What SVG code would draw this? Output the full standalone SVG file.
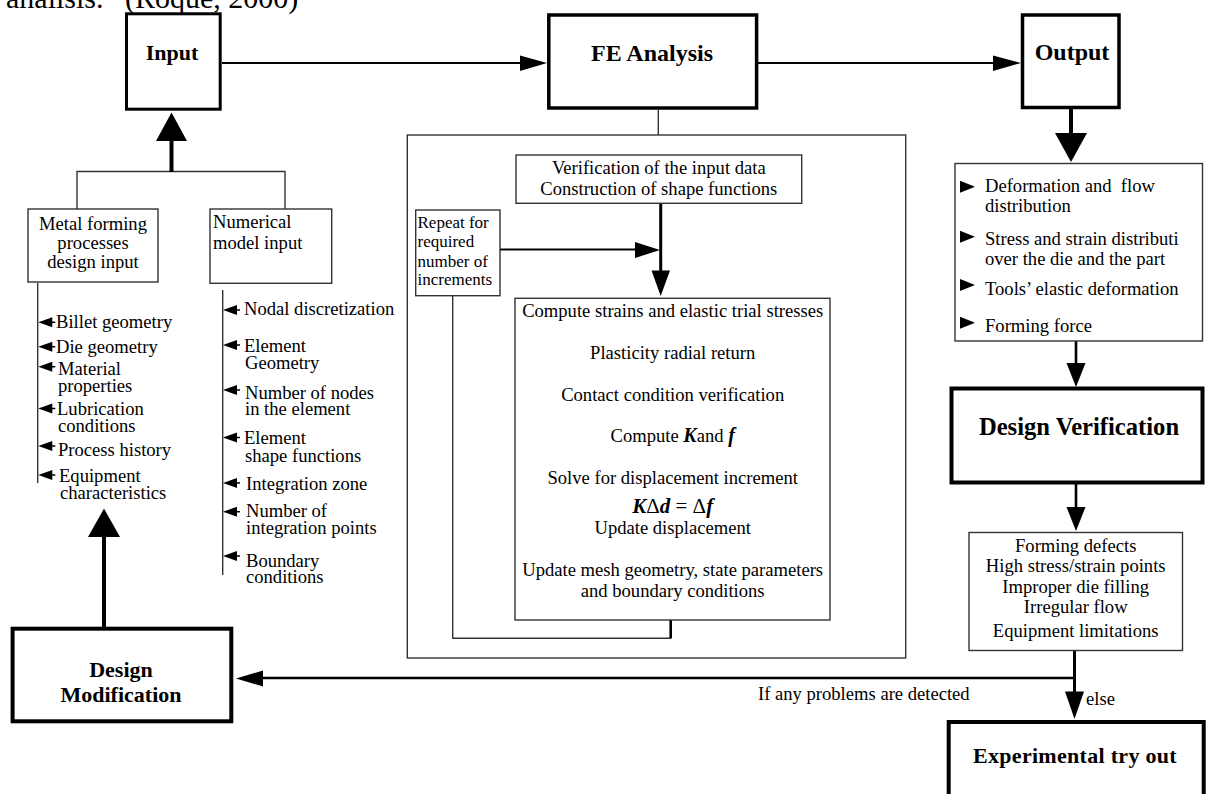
<svg xmlns="http://www.w3.org/2000/svg" width="1206" height="794" viewBox="0 0 1206 794">
  <style>
    text { font-family: "Liberation Serif", "Times New Roman", serif; font-size: 18.6px; fill: #000; }
    .c { text-anchor: middle; }
    .b { font-weight: bold; }
    .bi { font-weight: bold; font-style: italic; }
    .sm { font-size: 17px; }
    .title { font-weight: bold; font-size: 23px; text-anchor: middle; }
    .heavy { fill: #fff; stroke: #000; stroke-width: 3.5; }
    .box { fill: #fff; stroke: #333; stroke-width: 1.4; }
    .thin { fill: none; stroke: #333; stroke-width: 1.4; }
    .wire { fill: none; stroke: #000; stroke-width: 2.2; }
    .stem { fill: none; stroke: #000; stroke-width: 4; }
    .head { fill: #000; stroke: none; }
  </style>
  <defs>
    <!-- small list pointers: left-pointing with a short tail, right-pointing solid -->
    <g id="ptrL"><polygon points="0,0 14,-5 14,5" class="head"/><line x1="13" y1="0" x2="17" y2="0" stroke="#000" stroke-width="1.5"/></g>
    <polygon id="ptrR" points="0,-6 0,6 15,0" class="head"/>
  </defs>

  <rect width="1206" height="794" fill="#fff"/>

  <!-- caption line cut at the top edge -->
  <text y="8" style="font-size:30px"><tspan x="6">analisis.</tspan><tspan x="125">(Roque, 2000)</tspan></text>

  <!-- connectors -->
  <g id="connectors">
    <!-- Input -> FE Analysis -> Output -->
    <line class="wire" x1="222" y1="63" x2="521" y2="63"/>
    <polygon class="head" points="520,55.5 547,63 520,71"/>
    <line class="wire" x1="758" y1="63" x2="994" y2="63"/>
    <polygon class="head" points="993,55.5 1021,63 993,71"/>

    <!-- design inputs bracket up to Input -->
    <polyline class="thin" points="77,209 77,171.5 285,171.5 285,209"/>
    <line class="stem" x1="171.5" y1="172" x2="171.5" y2="139"/>
    <polygon class="head" points="156,141 187,141 171.5,112.5"/>

    <!-- list spines -->
    <line class="thin" x1="37.7" y1="283" x2="37.7" y2="483"/>
    <line class="thin" x1="222.7" y1="290" x2="222.7" y2="575"/>

    <!-- FE Analysis to its detail frame -->
    <line class="thin" x1="658.3" y1="110" x2="658.3" y2="135"/>
    <line class="wire" x1="660.7" y1="203" x2="660.7" y2="272" style="stroke-width:3"/>
    <polygon class="head" points="651.5,270.5 670,270.5 660.7,296"/>
    <line class="wire" x1="500" y1="249.5" x2="636" y2="249.5"/>
    <polygon class="head" points="635,242 660,250 635,258"/>
    <!-- increment loop -->
    <polyline class="thin" points="452.7,296 452.7,638.3 670.7,638.3 670.7,620"/>
    <line class="wire" x1="670.7" y1="620" x2="670.7" y2="638" style="stroke-width:2.6"/>

    <!-- Output -> results list -> Design Verification -> defects -->
    <line class="stem" x1="1071" y1="109" x2="1071" y2="134"/>
    <polygon class="head" points="1055,133 1087,133 1071,162"/>
    <line class="wire" x1="1076" y1="341" x2="1076" y2="364" style="stroke-width:2.6"/>
    <polygon class="head" points="1066.5,363 1085.5,363 1076,387"/>
    <line class="wire" x1="1076" y1="484" x2="1076" y2="508" style="stroke-width:2.6"/>
    <polygon class="head" points="1066.5,507 1085.5,507 1076,531"/>

    <!-- decision: problems -> Design Modification, else -> try out -->
    <line class="wire" x1="1074.5" y1="651" x2="1074.5" y2="693" style="stroke-width:3"/>
    <polygon class="head" points="1065,691.5 1084,691.5 1074.5,719"/>
    <line class="wire" x1="1073" y1="678" x2="262" y2="678" style="stroke-width:2.6"/>
    <polygon class="head" points="263,670.5 263,686.5 236,678.5"/>
    <text x="758" y="699.5">If any problems are detected</text>
    <text x="1086" y="705">else</text>

    <!-- Design Modification back to the design inputs -->
    <line class="stem" x1="104" y1="627" x2="104" y2="535"/>
    <polygon class="head" points="88,537 120,537 104,508.5"/>
  </g>

  <g id="input">
    <rect class="heavy" x="126.5" y="13.8" width="93.7" height="95.4" style="stroke-width:3"/>
    <text class="title" x="172" y="60" style="font-size:22px">Input</text>
  </g>

  <g id="fe-analysis">
    <rect class="heavy" x="548.8" y="15" width="207.8" height="93"/>
    <text class="title" x="652" y="61" style="font-size:24px">FE Analysis</text>
  </g>

  <g id="output">
    <rect class="heavy" x="1022.5" y="15" width="96.5" height="92.5"/>
    <text class="title" x="1072" y="60" style="font-size:24px">Output</text>
  </g>

  <g id="process-input">
    <rect class="box" x="28" y="209" width="130" height="73"/>
    <text class="c" x="93" y="230">Metal forming</text>
    <text class="c" x="93" y="249">processes</text>
    <text class="c" x="93" y="268">design input</text>
  </g>

  <g id="process-list">
    <use href="#ptrL" x="38.3" y="322.3"/><text x="56" y="327.5">Billet geometry</text>
    <use href="#ptrL" x="38.3" y="346.7"/><text x="56" y="352.5">Die geometry</text>
    <use href="#ptrL" x="38.3" y="366.7"/><text x="58" y="375">Material</text><text x="58" y="392">properties</text>
    <use href="#ptrL" x="38.3" y="408.5"/><text x="57" y="415">Lubrication</text><text x="58" y="432">conditions</text>
    <use href="#ptrL" x="38.3" y="446"/><text x="58" y="456">Process history</text>
    <use href="#ptrL" x="38.3" y="475"/><text x="59" y="481.5">Equipment</text><text x="60" y="498.5">characteristics</text>
  </g>

  <g id="model-input">
    <rect class="box" x="210" y="209" width="121.7" height="74.3"/>
    <text x="213" y="227.5">Numerical</text>
    <text x="213" y="249">model input</text>
  </g>

  <g id="model-list">
    <use href="#ptrL" x="223" y="310"/><text x="244" y="315">Nodal discretization</text>
    <use href="#ptrL" x="223" y="345"/><text x="244" y="351.5">Element</text><text x="245" y="368.5">Geometry</text>
    <use href="#ptrL" x="223" y="390"/><text x="245" y="398.5">Number of nodes</text><text x="245" y="414.5">in the element</text>
    <use href="#ptrL" x="223" y="437.5"/><text x="244" y="443.5">Element</text><text x="245" y="461.5">shape functions</text>
    <use href="#ptrL" x="223" y="483"/><text x="246" y="489.5">Integration zone</text>
    <use href="#ptrL" x="223" y="511.7"/><text x="246" y="516.7">Number of</text><text x="246" y="533.5">integration points</text>
    <use href="#ptrL" x="223" y="556"/><text x="246" y="566.5">Boundary</text><text x="246" y="582.5">conditions</text>
  </g>

  <g id="fe-detail">
    <rect class="thin" x="407.3" y="135" width="498.4" height="523"/>
  </g>

  <g id="verification">
    <rect class="box" x="516" y="155" width="285.7" height="48.3"/>
    <text class="c" x="658.8" y="173.5">Verification of the input data</text>
    <text class="c" x="658.8" y="195">Construction of shape functions</text>
  </g>

  <g id="repeat">
    <rect class="box" x="415.7" y="210" width="84.3" height="85.7"/>
    <text class="sm" x="417.5" y="228.3">Repeat for</text>
    <text class="sm" x="417.5" y="247.3">required</text>
    <text class="sm" x="417.5" y="266.7">number of</text>
    <text class="sm" x="417.5" y="285">increments</text>
  </g>

  <g id="increment-steps">
    <rect class="box" x="515" y="298.3" width="315" height="321.7"/>
    <text class="c" x="672.7" y="316.7">Compute strains and elastic trial stresses</text>
    <text class="c" x="672.7" y="359.3">Plasticity radial return</text>
    <text class="c" x="672.7" y="400.7">Contact condition verification</text>
    <text class="c" x="672.7" y="441.7">Compute <tspan class="bi" style="font-size:20px">K</tspan>and <tspan class="bi" style="font-size:20px">f</tspan></text>
    <text class="c" x="672.7" y="484.3">Solve for displacement increment</text>
    <text class="c" x="672.7" y="513.3" style="font-size:21px"><tspan class="bi">K</tspan>Δ<tspan class="bi">d</tspan> = Δ<tspan class="bi">f</tspan></text>
    <text class="c" x="672.7" y="534.3">Update displacement</text>
    <text class="c" x="672.7" y="576">Update mesh geometry, state parameters</text>
    <text class="c" x="672.7" y="596.7">and boundary conditions</text>
  </g>

  <g id="results">
    <rect class="box" x="955" y="163.5" width="247.5" height="177.5"/>
    <use href="#ptrR" x="960" y="186.7"/>
    <text x="985" y="191.7" xml:space="preserve">Deformation and  flow</text>
    <text x="985" y="211.7">distribution</text>
    <use href="#ptrR" x="960" y="236.7"/>
    <text x="985" y="245">Stress and strain distributi</text>
    <text x="985" y="265">over the die and the part</text>
    <use href="#ptrR" x="960" y="285"/>
    <text x="985" y="295">Tools’ elastic deformation</text>
    <use href="#ptrR" x="960" y="322.7"/>
    <text x="985" y="331.7">Forming force</text>
  </g>

  <g id="design-verification">
    <rect class="heavy" x="951.5" y="388.5" width="251" height="94" style="stroke-width:4"/>
    <text class="title" x="1079" y="435" style="font-size:24.6px">Design Verification</text>
  </g>

  <g id="defects">
    <rect class="box" x="969" y="532.5" width="213.5" height="118"/>
    <text class="c" x="1075.7" y="551.7">Forming defects</text>
    <text class="c" x="1075.7" y="571.7">High stress/strain points</text>
    <text class="c" x="1075.7" y="593.3">Improper die filling</text>
    <text class="c" x="1075.7" y="613.3">Irregular flow</text>
    <text class="c" x="1075.7" y="636.7">Equipment limitations</text>
  </g>

  <g id="design-modification">
    <rect class="heavy" x="12.6" y="628.7" width="218.7" height="92.6" style="stroke-width:4"/>
    <text class="title" x="121" y="677.3" style="font-size:22px">Design</text>
    <text class="title" x="121" y="701.7" style="font-size:22px">Modification</text>
  </g>

  <g id="try-out">
    <rect class="heavy" x="948.7" y="722" width="255" height="90" style="stroke-width:4"/>
    <text class="title" x="1075" y="762.7" style="font-size:22px;letter-spacing:0.3px">Experimental try out</text>
  </g>
</svg>
